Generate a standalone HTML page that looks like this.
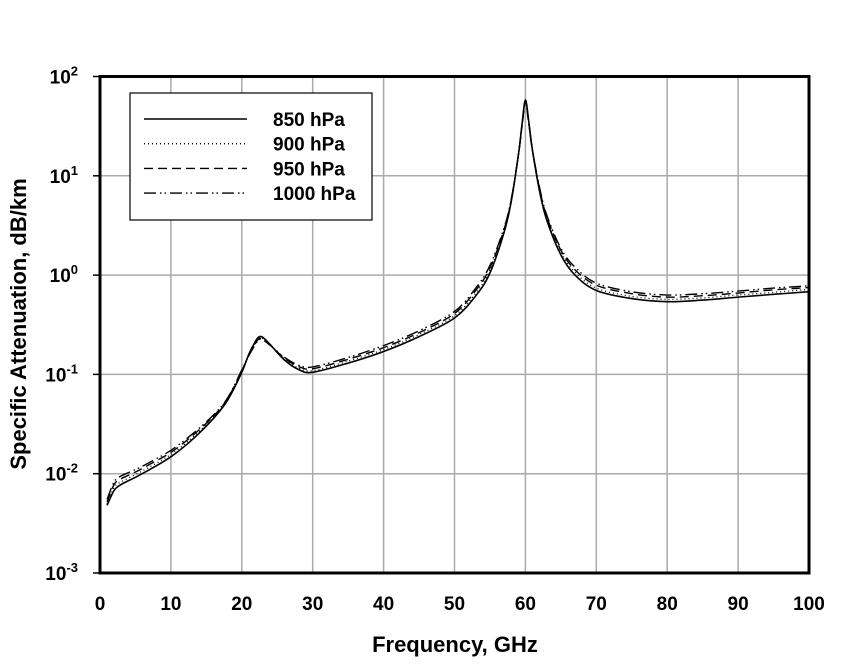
<!DOCTYPE html>
<html><head><meta charset="utf-8"><style>
body{margin:0;background:#fff}
svg text{font-family:"Liberation Sans",Arial,sans-serif;font-weight:bold;fill:#000}
</style></head><body>
<svg id="chart" width="850" height="664" viewBox="0 0 850 664">
<g id="grid"></g>
<g id="series"></g>
<rect x="100" y="76.5" width="709" height="496.5" fill="none" stroke="#000" stroke-width="3"/>
<g id="ticks"></g>
<text x="26" y="324" font-size="22" text-anchor="middle" transform="rotate(-90 26 324)">Specific Attenuation, dB/km</text>
<text x="455" y="652" font-size="22" text-anchor="middle">Frequency, GHz</text>
<g>
<rect x="130" y="93" width="242" height="127" fill="#fff" stroke="#000" stroke-width="1.2"/>
<g id="legend"></g>
</g>
</svg>
<script>
const freqs=[1,2,3,5,7,10,13,16,18,20,21,22,22.5,23,24,26,28,30,35,40,45,50,53,55,57,58,59,59.5,60,60.5,61,62,63,65,67,70,75,80,85,90,95,100];
const s850=[0.0048,0.0068,0.0078,0.0092,0.011,0.0148,0.022,0.036,0.055,0.105,0.16,0.22,0.24,0.235,0.2,0.14,0.112,0.105,0.13,0.17,0.24,0.37,0.62,1.05,2.7,5.5,16,32,58,34,18,7,3.6,1.6,1.0,0.7,0.58,0.54,0.56,0.6,0.64,0.68];
const s900=[0.005,0.0073,0.0083,0.0098,0.0117,0.0156,0.023,0.037,0.056,0.107,0.158,0.215,0.235,0.23,0.2,0.143,0.116,0.109,0.136,0.178,0.252,0.39,0.66,1.12,2.8,5.6,16,31,57,33,18,7.2,3.75,1.7,1.07,0.74,0.61,0.57,0.59,0.63,0.67,0.72];
const s950=[0.0052,0.0078,0.0089,0.0104,0.0124,0.0164,0.024,0.038,0.057,0.109,0.156,0.21,0.23,0.226,0.198,0.146,0.12,0.114,0.142,0.186,0.263,0.41,0.7,1.18,2.9,5.7,16,31,56,33,18,7.4,3.9,1.78,1.13,0.79,0.65,0.6,0.62,0.66,0.71,0.75];
const s1000=[0.0055,0.0083,0.0095,0.011,0.013,0.0172,0.025,0.039,0.058,0.111,0.155,0.205,0.225,0.222,0.196,0.149,0.124,0.119,0.148,0.195,0.275,0.43,0.74,1.25,3.0,5.8,16,30,55,32,18,7.6,4.05,1.86,1.2,0.83,0.68,0.63,0.65,0.69,0.74,0.78];
const seriesNames=["850 hPa","900 hPa","950 hPa","1000 hPa"];
const xTicks=[0,10,20,30,40,50,60,70,80,90,100];
const yExps=[2,1,0,-1,-2,-3];
const NS="http://www.w3.org/2000/svg";
const X=f=>100+f*7.09, Y=v=>76.5+(2-Math.log10(v))*99.3;
function el(t,a,p){const e=document.createElementNS(NS,t);for(const k in a)e.setAttribute(k,a[k]);p.appendChild(e);return e;}
const grid=document.getElementById('grid'),ticks=document.getElementById('ticks');
xTicks.forEach(t=>{
 if(t>0&&t<100){const l=el('line',{x1:X(t),x2:X(t),y1:76.5,y2:573,stroke:'#aaa','stroke-width':1.5},grid);
 
 }
 const tx=el('text',{x:X(t),y:610,'font-size':19,'text-anchor':'middle'},ticks);tx.textContent=t;
 
 
});
yExps.forEach(e=>{
 const y=Y(Math.pow(10,e));
 if(e<2&&e>-3){const l=el('line',{x1:100,x2:809,y1:y,y2:y,stroke:'#aaa','stroke-width':1.5},grid);
 
 }
 el('line',{x1:93,x2:100,y1:y,y2:y,stroke:'#000','stroke-width':1.5},ticks);
 const tx=el('text',{x:78,y:y+7,'font-size':19,'text-anchor':'end'},ticks);
 tx.innerHTML='10<tspan dy="-8" font-size="13">'+e+'</tspan>';
 
 
});
const styles=[{d:'',w:1.6},{d:'1 3',w:1.3},{d:'9 5',w:1.4},{d:'12 4 1.5 3 1.5 4',w:1.4}];
const allS=[s850,s900,s950,s1000];
function path(vals){
 const p=freqs.map((f,i)=>[X(f),Y(vals[i])]);
 let d='M'+p[0][0]+','+p[0][1];
 for(let i=0;i<p.length-1;i++){
  const p0=p[i-1]||p[i],p1=p[i],p2=p[i+1],p3=p[i+2]||p2;
  const c1=[p1[0]+(p2[0]-p0[0])/6,p1[1]+(p2[1]-p0[1])/6],c2=[p2[0]-(p3[0]-p1[0])/6,p2[1]-(p3[1]-p1[1])/6];
  d+=' C'+c1+' '+c2+' '+p2;
 }
 return d;
}
const sg=document.getElementById('series'),lg=document.getElementById('legend');
allS.forEach((vals,i)=>{
 const pa=el('path',{d:path(vals),fill:'none',stroke:'#000','stroke-width':styles[i].w,'stroke-dasharray':styles[i].d},sg);
 
 
 const y=119+i*24.7;
 const ll=el('line',{x1:144,x2:247,y1:y,y2:y,stroke:'#000','stroke-width':styles[i].w,'stroke-dasharray':styles[i].d},lg);
 
 
 const t=el('text',{x:273,y:y+7,'font-size':19},lg);t.textContent=seriesNames[i];
 
 
});
</script>
</body></html>
